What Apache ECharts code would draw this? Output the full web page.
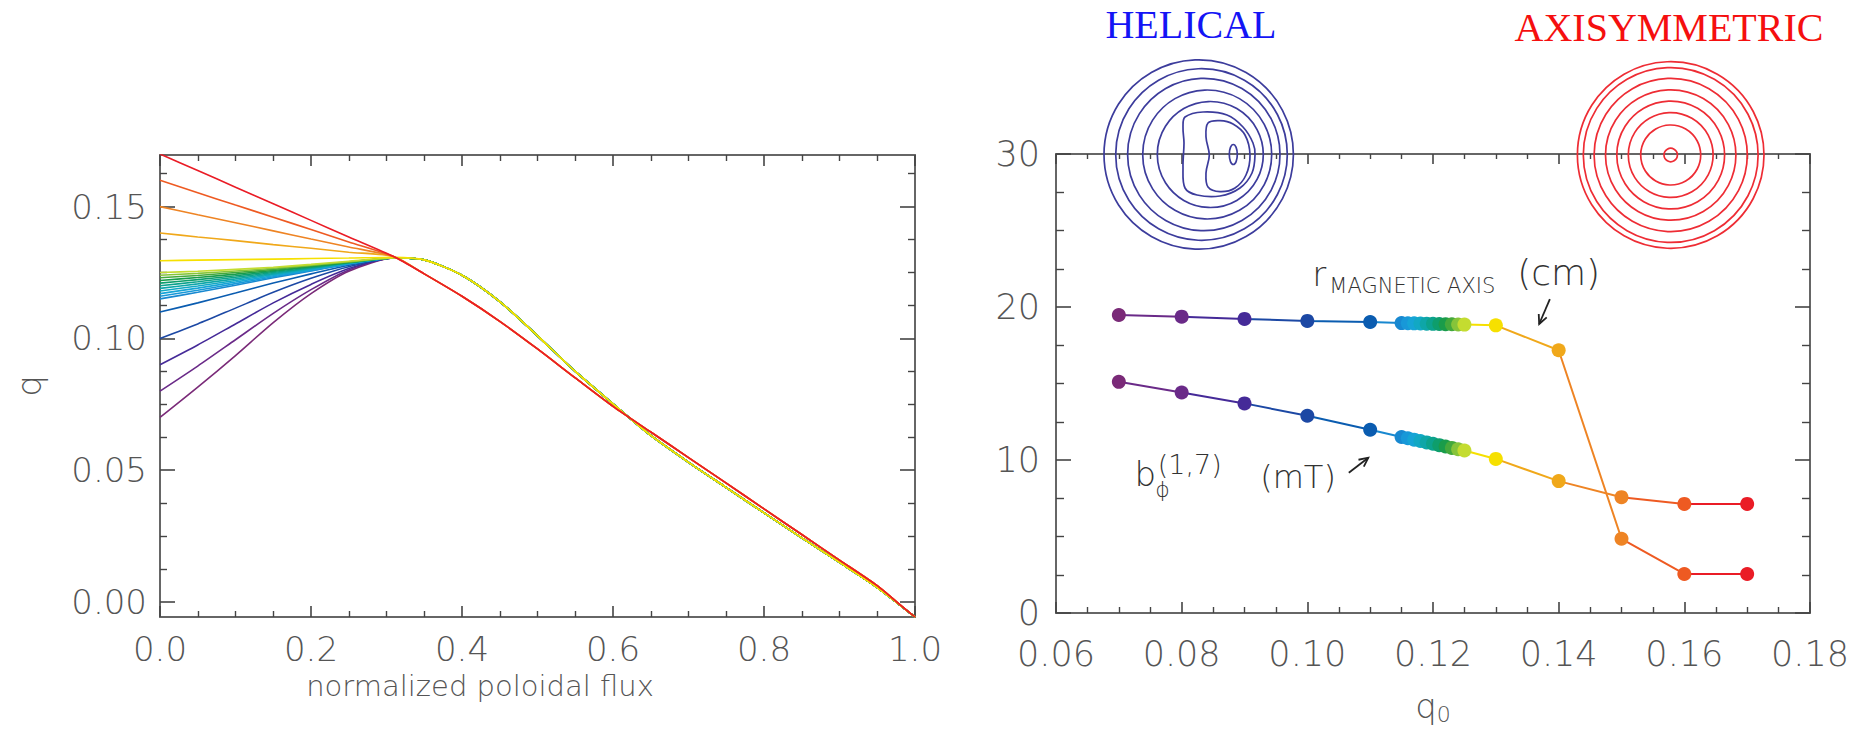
<!DOCTYPE html>
<html>
<head>
<meta charset="utf-8">
<script src="https://cdn.jsdelivr.net/npm/echarts@6/dist/echarts.min.js"></script>
<style>
  html, body { margin: 0; padding: 0; background: #ffffff; }
  #chart { width: 1856px; height: 730px; }
</style>
</head>
<body>
<div id="chart"></div>
<script>
// ---------------- data: safety-factor profiles q(psi) ----------------
const fluxGrid = [0, 0.05, 0.10, 0.15, 0.20, 0.25, 0.31, 0.35, 0.40, 0.45, 0.50, 0.55, 0.60,
                  0.65, 0.70, 0.75, 0.80, 0.85, 0.90, 0.95, 0.98, 1.00];

// on-axis safety factor of each equilibrium
const profileQ0 = [0.07, 0.08, 0.09, 0.10, 0.11, 0.115, 0.116, 0.117, 0.118, 0.119, 0.120,
                   0.121, 0.122, 0.123, 0.124, 0.125, 0.13, 0.14, 0.15, 0.16, 0.17];

// core part of each profile, psi = 0 ... 0.31
const profileCore = [
  [0.070, 0.0815, 0.0935, 0.1060, 0.1170, 0.1255, 0.1305],
  [0.080, 0.0895, 0.0995, 0.1095, 0.1185, 0.1260, 0.1305],
  [0.090, 0.0975, 0.1055, 0.1135, 0.1205, 0.1265, 0.1305],
  [0.100, 0.1055, 0.1115, 0.1175, 0.1228, 0.1272, 0.1305],
  [0.110, 0.1135, 0.1172, 0.1210, 0.1245, 0.1278, 0.1305],
  [0.115, 0.1175, 0.1202, 0.1230, 0.1256, 0.1282, 0.1305],
  [0.116, 0.1183, 0.1208, 0.1234, 0.1258, 0.1283, 0.1305],
  [0.117, 0.1191, 0.1214, 0.1238, 0.1261, 0.1284, 0.1305],
  [0.118, 0.1199, 0.1220, 0.1242, 0.1263, 0.1285, 0.1305],
  [0.119, 0.1207, 0.1226, 0.1246, 0.1266, 0.1286, 0.1305],
  [0.120, 0.1215, 0.1232, 0.1250, 0.1268, 0.1287, 0.1305],
  [0.121, 0.1223, 0.1238, 0.1254, 0.1271, 0.1288, 0.1305],
  [0.122, 0.1231, 0.1244, 0.1258, 0.1273, 0.1289, 0.1305],
  [0.123, 0.1239, 0.1250, 0.1262, 0.1276, 0.1290, 0.1305],
  [0.124, 0.1247, 0.1256, 0.1266, 0.1278, 0.1291, 0.1305],
  [0.125, 0.1255, 0.1262, 0.1270, 0.1281, 0.1293, 0.1305],
  [0.1295, 0.1297, 0.1299, 0.1301, 0.1303, 0.1305, 0.1308],
  [0.140, 0.1385, 0.1371, 0.1356, 0.1342, 0.1327, 0.1310],
  [0.150, 0.1469, 0.1439, 0.1408, 0.1377, 0.1347, 0.1310],
  [0.160, 0.1553, 0.1506, 0.1460, 0.1413, 0.1366, 0.1310],
  [0.170, 0.1637, 0.1574, 0.1511, 0.1448, 0.1385, 0.1310]
];

// outer part, psi = 0.35 ... 1.0 (helical branch and axisymmetric branch)
const helicalEdge = [0.1298, 0.1240, 0.1140, 0.1010, 0.0875, 0.0752, 0.0632, 0.0530, 0.0434,
                     0.0338, 0.0243, 0.0150, 0.0055, -0.0012, -0.0057];
const axisymEdge  = [0.1245, 0.1160, 0.1065, 0.0960, 0.0850, 0.0742, 0.0645, 0.0548, 0.0451,
                     0.0353, 0.0256, 0.0159, 0.0062, -0.0010, -0.0057];
const axisymFromQ0 = 0.14;

// ---------------- data: scan in q0 ----------------
const q0Scan = [0.07, 0.08, 0.09, 0.10, 0.11, 0.115, 0.116, 0.117, 0.118, 0.119, 0.120,
                0.121, 0.122, 0.123, 0.124, 0.125, 0.13, 0.14, 0.15, 0.16, 0.17];
const rMagneticAxis = [19.48, 19.37, 19.22, 19.09, 19.02, 18.95, 18.94, 18.93, 18.92, 18.91, 18.90,
                       18.89, 18.88, 18.87, 18.86, 18.85, 18.80, 17.17, 4.85, 2.55, 2.55];
const bPhi17 = [15.11, 14.41, 13.70, 12.89, 11.98, 11.50, 11.42, 11.33, 11.24, 11.15, 11.06,
                10.97, 10.88, 10.79, 10.70, 10.62, 10.07, 8.62, 7.57, 7.13, 7.13];

// ---------------- tick values ----------------
const fluxTicks = [0, 0.2, 0.4, 0.6, 0.8, 1.0];
const fluxMinor = [0.05, 0.1, 0.15, 0.25, 0.3, 0.35, 0.45, 0.5, 0.55, 0.65, 0.7, 0.75, 0.85, 0.9, 0.95];
const qTicks = [0, 0.05, 0.10, 0.15];
const qMinor = [0.0125, 0.025, 0.0375, 0.0625, 0.075, 0.0875, 0.1125, 0.125, 0.1375, 0.1625];
const q0Ticks = [0.06, 0.08, 0.10, 0.12, 0.14, 0.16, 0.18];
const q0Minor = [0.065, 0.07, 0.075, 0.085, 0.09, 0.095, 0.105, 0.11, 0.115, 0.125, 0.13, 0.135,
                 0.145, 0.15, 0.155, 0.165, 0.17, 0.175];
const scanTicks = [0, 10, 20, 30];
const scanMinor = [2.5, 5, 7.5, 12.5, 15, 17.5, 22.5, 25, 27.5];

// ---------------- styling ----------------
// rainbow colour for each q0 (purple -> blue -> green -> yellow -> red)
const q0Colors = ['#7a2a78', '#6a2a88', '#452a98', '#1c48a4', '#0a5cb0', '#1888d0', '#1898d8',
                  '#16a4d6', '#12a8c4', '#0ea6a8', '#0ca28c', '#0e9e6c', '#1a9c4a', '#44a83c',
                  '#86c43a', '#c4dc30', '#f6e000', '#f0a81a', '#ee8424', '#ee5a22', '#ea1c26'];

const FONT = "'DejaVu Sans', 'Open Sans', sans-serif";
const WEIGHT = 200;
const AXIS_COLOR = '#666';
const TICK_COLOR = '#444';
const LABEL_COLOR = '#555';

function axisPair(gridIndex, position, range, majors, minors, majorLen, minorLen, label, extra) {
  const base = { type: 'value', gridIndex, position, min: range[0], max: range[1],
                 splitLine: { show: false }, splitArea: { show: false } };
  const major = Object.assign({}, base, {
    axisLine: { show: true, onZero: false, lineStyle: { color: AXIS_COLOR, width: 2 } },
    axisTick: { show: true, inside: true, length: majorLen, customValues: majors,
                lineStyle: { color: TICK_COLOR, width: 1.6 } },
    axisLabel: label ? Object.assign({ customValues: majors }, label) : { show: false }
  }, extra || {});
  const minor = Object.assign({}, base, {
    axisLine: { show: false, onZero: false },
    axisTick: { show: true, inside: true, length: minorLen, customValues: minors,
                lineStyle: { color: TICK_COLOR, width: 1.4 } },
    axisLabel: { show: false }
  });
  return [major, minor];
}

const tickLabel = (size, margin, fmt) => ({
  show: true, margin, fontSize: size, lineHeight: 30, fontFamily: FONT, fontWeight: WEIGHT,
  color: LABEL_COLOR, formatter: fmt
});

// left panel: grid 0, right panel: grid 1
const qRange = [-0.0057, 0.1696];
const xAxes = [].concat(
  axisPair(0, 'bottom', [0, 1], fluxTicks, fluxMinor, 11, 6,
    tickLabel(34, 17, v => v.toFixed(1)),
    { name: 'normalized poloidal flux', nameLocation: 'middle', nameGap: 42,
      nameTextStyle: { fontSize: 29, lineHeight: 30, fontFamily: FONT, fontWeight: WEIGHT,
                       color: LABEL_COLOR, padding: [0, 115, 0, 0] } }),
  axisPair(0, 'top', [0, 1], fluxTicks, fluxMinor, 11, 6, null),
  axisPair(1, 'bottom', [0.06, 0.18], q0Ticks, q0Minor, 11, 6,
    tickLabel(35, 26, v => v.toFixed(2)),
    { name: '{q|q}{s|0}', nameLocation: 'middle', nameGap: 76,
      nameTextStyle: { color: LABEL_COLOR, rich: {
        q: { fontSize: 34, lineHeight: 34, fontFamily: FONT, fontWeight: WEIGHT, color: LABEL_COLOR },
        s: { fontSize: 22, lineHeight: 34, fontFamily: FONT, fontWeight: WEIGHT, color: LABEL_COLOR,
             padding: [16, 0, 0, 0] }
      } } }),
  axisPair(1, 'top', [0.06, 0.18], q0Ticks, q0Minor, 10, 5, null)
);
const yAxes = [].concat(
  axisPair(0, 'left', qRange, qTicks, qMinor, 15, 7,
    tickLabel(34, 13, v => v.toFixed(2)),
    { name: 'q', nameLocation: 'middle', nameRotate: 90, nameGap: 114,
      nameTextStyle: { fontSize: 34, lineHeight: 34, fontFamily: FONT, fontWeight: WEIGHT,
                       color: LABEL_COLOR } }),
  axisPair(0, 'right', qRange, qTicks, qMinor, 15, 7, null),
  axisPair(1, 'left', [0, 30], scanTicks, scanMinor, 15, 8,
    tickLabel(35, 16, v => String(v))),
  axisPair(1, 'right', [0, 30], scanTicks, scanMinor, 15, 8, null)
);
// indices of the axes that carry the series
const X_LEFT = 0, Y_LEFT = 0, X_RIGHT = 4, Y_RIGHT = 4;

// profile series
const profileSeries = profileQ0.map((q0, i) => {
  const edge = q0 >= axisymFromQ0 ? axisymEdge : helicalEdge;
  const values = profileCore[i].concat(edge);
  return {
    name: 'q0 = ' + q0, type: 'line', xAxisIndex: X_LEFT, yAxisIndex: Y_LEFT,
    data: fluxGrid.map((x, k) => [x, values[k]]),
    showSymbol: false, symbol: 'none', smooth: 0.25,
    lineStyle: { color: q0Colors[i], width: 1.6 }, z: 2, animation: false
  };
});

const scanSeries = [
  { name: 'r magnetic axis', values: rMagneticAxis },
  { name: 'b phi (1,7)', values: bPhi17 }
].map(s => ({
  name: s.name, type: 'line', xAxisIndex: X_RIGHT, yAxisIndex: Y_RIGHT,
  data: q0Scan.map((q, i) => [q, s.values[i]]),
  symbol: 'circle', symbolSize: 14, showAllSymbol: true,
  lineStyle: { width: 2 }, z: 3, animation: false
}));

const pieces = q0Scan.map((q, i) => i === 0
  ? { lte: q, color: q0Colors[i] }
  : { gt: q0Scan[i - 1], lte: q, color: q0Colors[i] });

const chart = echarts.init(document.getElementById('chart'), null,
  { renderer: 'svg', width: 1856, height: 730 });

chart.setOption({
  backgroundColor: '#ffffff',
  animation: false,
  grid: [
    { left: 160, top: 155, width: 755, height: 462, containLabel: false },
    { left: 1056, top: 154, width: 754, height: 462, containLabel: false }
  ],
  xAxis: xAxes,
  yAxis: yAxes,
  visualMap: [{
    type: 'piecewise', show: false, dimension: 0,
    seriesIndex: [profileSeries.length, profileSeries.length + 1], pieces
  }],
  series: profileSeries.concat(scanSeries)
});

// ---------------- annotations and flux-surface insets ----------------
const px = (q0, v) => chart.convertToPixel({ gridIndex: 1 }, [q0, v]);

function text(pos, str, size, extra) {
  return {
    type: 'text', x: pos[0], y: pos[1], z: 20,
    style: Object.assign({
      text: str, fontSize: size, lineHeight: size, fontFamily: FONT, fontWeight: WEIGHT, fill: '#333',
      align: 'left', verticalAlign: 'middle', textAlign: 'left', textVerticalAlign: 'middle'
    }, extra || {})
  };
}
function arrow(from, to) {
  const a = Math.atan2(to[1] - from[1], to[0] - from[0]);
  const h = 10, w = 0.45;
  const p1 = [to[0] - h * Math.cos(a - w), to[1] - h * Math.sin(a - w)];
  const p2 = [to[0] - h * Math.cos(a + w), to[1] - h * Math.sin(a + w)];
  const st = { stroke: '#222', lineWidth: 1.8, fill: null };
  return [
    { type: 'polyline', z: 20, shape: { points: [from, to] }, style: st },
    { type: 'polyline', z: 20, shape: { points: [p1, to, p2] }, style: st }
  ];
}

// helical flux surfaces: nested rings whose centres drift towards the helical axis
const helicalRings = [
  { cx: 1198.7, r: 94.7 }, { cx: 1201.5, r: 85.8 }, { cx: 1203.8, r: 76.2 },
  { cx: 1207.2, r: 64.5 }, { cx: 1210.3, r: 53.0 }
];
const helicalIslands = [
  [[1185, 117], [1203, 112], [1227, 115], [1243, 127], [1253, 143], [1255, 155], [1252, 173],
   [1240, 188], [1220, 196], [1197, 195], [1185, 188], [1183, 167], [1184, 143], [1183, 127]],
  [[1208, 123], [1220, 120.7], [1233, 124], [1245, 135], [1250, 155], [1246, 175], [1235, 188],
   [1220, 191.7], [1208, 187], [1206, 173], [1209.3, 155], [1206, 137]]
];
const axisRings = [93.3, 87.4, 76.6, 65.2, 53.9, 42.4, 30.0, 6.7];
const AXIS_CENTER = [1670.7, 155];
const HELICAL_Y = 154.5;

const blue = { stroke: '#3c3c9c', lineWidth: 1.7, fill: null };
const red = { stroke: '#ee2c34', lineWidth: 1.7, fill: null };

const graphics = [];
helicalRings.forEach(c => graphics.push({ type: 'circle', z: 15,
  shape: { cx: c.cx, cy: HELICAL_Y, r: c.r }, style: blue }));
helicalIslands.forEach(pts => graphics.push({ type: 'polygon', z: 15,
  shape: { points: pts, smooth: 0.35 }, style: blue }));
graphics.push({ type: 'ellipse', z: 15, shape: { cx: 1233.3, cy: HELICAL_Y, rx: 4, ry: 10 }, style: blue });
axisRings.forEach(r => graphics.push({ type: 'circle', z: 15,
  shape: { cx: AXIS_CENTER[0], cy: AXIS_CENTER[1], r }, style: red }));

const SERIF = "'Liberation Serif', 'Times New Roman', serif";
graphics.push(text([1191, 24], 'HELICAL', 40, {
  fontFamily: SERIF, fontWeight: 'normal', fill: '#1414f5', align: 'center', textAlign: 'center' }));
graphics.push(text([1669, 27], 'AXISYMMETRIC', 40, {
  fontFamily: SERIF, fontWeight: 'normal', fill: '#f50f0f', align: 'center', textAlign: 'center' }));

// r_MAGNETIC AXIS (cm)
graphics.push(text(px(0.1008, 22.17), 'r', 34));
graphics.push(text(px(0.1035, 21.40), 'MAGNETIC AXIS', 21));
graphics.push(text(px(0.1334, 22.25), '(cm)', 36));
arrow(px(0.1386, 20.52), px(0.1369, 18.89)).forEach(g => graphics.push(g));

// b_phi^(1,7) (mT)
graphics.push(text(px(0.0725, 9.11), 'b', 34));
graphics.push(text(px(0.0758, 8.05), '\u03d5', 22, { lineHeight: 18 }));
graphics.push(text(px(0.0762, 9.72), '(1,7)', 27, { lineHeight: 18 }));
graphics.push(text(px(0.0925, 8.87), '(mT)', 32));
arrow(px(0.1066, 9.17), px(0.1097, 10.15)).forEach(g => graphics.push(g));

chart.setOption({ graphic: graphics });
</script>
</body>
</html>
